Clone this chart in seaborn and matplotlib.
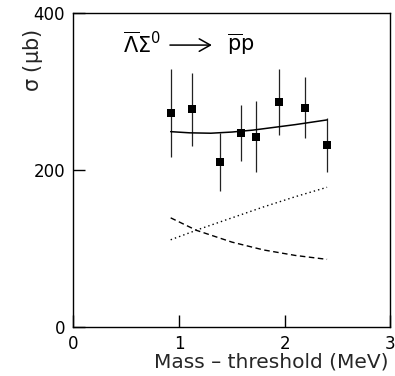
import numpy as np
import pandas as pd
import matplotlib
matplotlib.use("Agg")
import matplotlib.pyplot as plt
import seaborn as sns

# data points
mass_x = [0.92, 1.126, 1.386, 1.585, 1.727, 1.944, 2.187, 2.40]
sigma_y = [273, 277.5, 210.5, 247, 242.5, 287, 279.5, 232]
sigma_err = [56, 47, 37, 36, 45, 42, 39, 35]

# fit curve (solid)
fit_x = [0.92, 1.1, 1.3, 1.5, 1.7, 1.9, 2.1, 2.3, 2.4]
fit_y = [249, 247.5, 247, 248.5, 251, 254.5, 258, 262, 264]

# dotted component
dot_x = [0.92, 1.2, 1.5, 1.8, 2.1, 2.4]
dot_y = [111, 125, 139, 153, 166, 178]

# dashed component
dash_x = [0.92, 1.165, 1.5, 1.8, 2.1, 2.4]
dash_y = [139, 123, 108, 98, 91, 86]

x_ticks = [0, 1, 2, 3]
y_ticks = [0, 200, 400]

sns.set_style("ticks")
plt.rcParams['font.family'] = ['DejaVu Sans']
plt.rcParams['mathtext.fontset'] = 'dejavusans'
plt.rcParams['mathtext.default'] = 'regular'

fig = plt.figure(figsize=(3.95, 3.76), dpi=100)
ax = fig.add_axes([0.186, 0.131, 0.8025, 0.8335])

pts = pd.DataFrame({"x": mass_x, "y": sigma_y, "e": sigma_err})
ax.errorbar(pts["x"], pts["y"], yerr=pts["e"], fmt="none", ecolor="#222222",
            elinewidth=0.9, capsize=0, zorder=2)
sns.scatterplot(data=pts, x="x", y="y", marker="s", s=34, color="black",
                edgecolor="black", linewidth=0, ax=ax, zorder=3)

sns.lineplot(x=fit_x, y=fit_y, color="black", linewidth=1.1, ax=ax,
             sort=True, estimator=None)
sns.lineplot(x=dot_x, y=dot_y, color="black", linewidth=1.0, ax=ax,
             estimator=None, dashes=False, linestyle=(0, (1, 2.2)))
sns.lineplot(x=dash_x, y=dash_y, color="black", linewidth=1.0, ax=ax,
             estimator=None, linestyle=(0, (4, 2.5)))

ax.set_xlim(0, 3)
ax.set_ylim(0, 400)
ax.set_xticks(x_ticks)
ax.set_yticks(y_ticks)
ax.set_xticklabels([str(t) for t in x_ticks])
ax.set_yticklabels([str(t) for t in y_ticks])
ax.tick_params(direction="in", length=8.5, width=1, labelsize=12, pad=6,
               colors="black")
for sp in ax.spines.values():
    sp.set_visible(True)
    sp.set_linewidth(1.0)
    sp.set_color("black")

ax.set_xlabel("Mass – threshold (MeV)", fontsize=14.5, loc="right")
ax.xaxis.set_label_coords(0.995, -0.082)
ax.set_ylabel(r"$\sigma$ ($\mu$b)", fontsize=15, loc="top")
ax.yaxis.set_label_coords(-0.09, 0.95)

# reaction label: Λ̄Σ0 → p̄p
ax.text(0.468, 361, r"$\overline{\Lambda}\Sigma^0$",
        fontsize=15, ha="left", va="center", color="black")
ax.annotate("", xy=(1.31, 359.5), xytext=(0.913, 359.5),
            arrowprops=dict(arrowstyle="->,head_length=0.8,head_width=0.45",
                            color="black", lw=1.1, shrinkA=0, shrinkB=0))
ax.text(1.452, 361, r"$\overline{p}p$",
        fontsize=15, ha="left", va="center", color="black")

fig.savefig("out.png", dpi=100)
